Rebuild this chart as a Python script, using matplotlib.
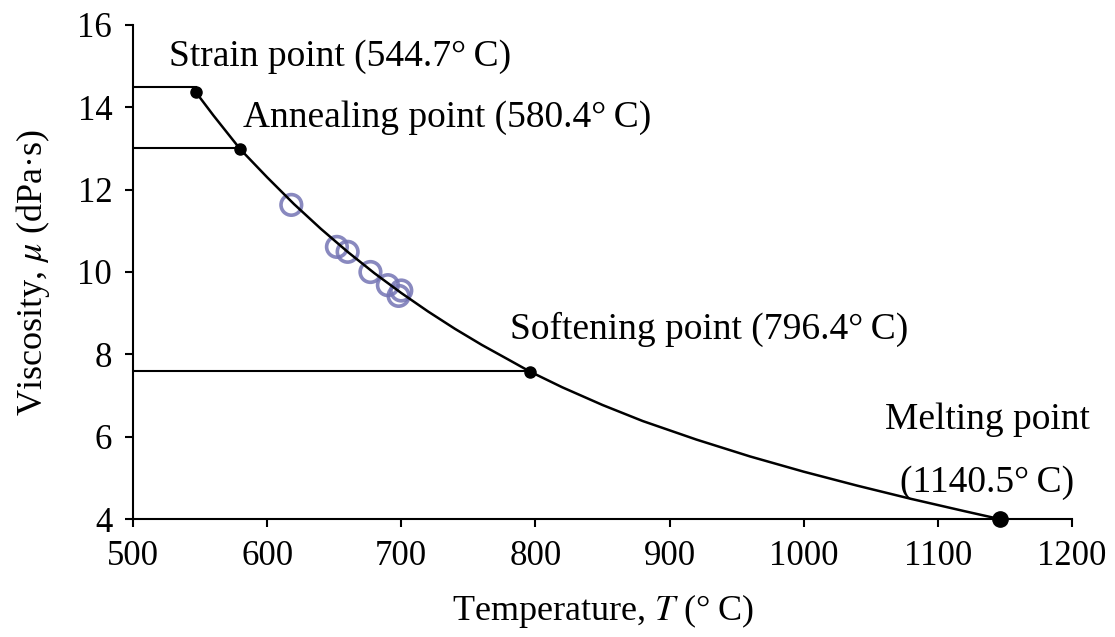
import numpy as np
import matplotlib
matplotlib.use('Agg')
import matplotlib.pyplot as plt

plt.rcParams['font.family'] = ['Liberation Serif', 'DejaVu Serif']
plt.rcParams['mathtext.fontset'] = 'stix'

# fitted viscosity curve
curve_T = [547, 560, 580, 600, 620, 640, 660, 680, 700, 720, 740, 760, 780, 796,
           820, 850, 880, 920, 960, 1000, 1040, 1080, 1120, 1146]
curve_mu = [14.36, 13.80, 12.98, 12.30, 11.65, 11.05, 10.49, 9.97, 9.49, 9.04,
            8.62, 8.23, 7.87, 7.58, 7.20, 6.77, 6.38, 5.93, 5.52, 5.15,
            4.81, 4.49, 4.19, 4.00]

# measured points (open circles)
meas_T = [618, 652, 660, 677, 690, 700, 698]
meas_mu = [11.63, 10.61, 10.49, 10.00, 9.68, 9.55, 9.42]

# characteristic points
pt_T = [547, 580, 796, 1146]
pt_mu = [14.36, 12.98, 7.58, 4.00]
line_mu = [14.5, 13.0, 7.6]

fig = plt.figure(figsize=(11.15, 6.37), dpi=100)
ax = fig.add_axes([0.1193, 0.1852, 0.8421, 0.7756])

ax.plot(curve_T, curve_mu, color='black', lw=1.8, zorder=3)
ax.scatter(meas_T, meas_mu, s=220, facecolors='none', edgecolors='#7474b4',
           linewidths=2.6, alpha=0.85, zorder=2)
for i in range(3):
    ax.plot([500, pt_T[i]], [line_mu[i], line_mu[i]], color='black', lw=1.5, zorder=3)
ax.plot(pt_T[:3], pt_mu[:3], 'o', color='black', ms=8, zorder=4)
ax.plot(pt_T[3:], pt_mu[3:], 'o', color='black', ms=11, zorder=4, clip_on=False)

fs = 25
afs = 27
deg = '°\u2009C'
ax.text(527, 15.22, 'Strain point (544.7' + deg + ')', fontsize=afs, va='center', ha='left')
ax.text(582, 13.74, 'Annealing point (580.4' + deg + ')', fontsize=afs, va='center', ha='left')
ax.text(781, 8.6, 'Softening point (796.4' + deg + ')', fontsize=afs, va='center', ha='left')
ax.text(1137, 6.41, 'Melting point', fontsize=afs, va='center', ha='center')
ax.text(1137, 4.88, '(1140.5' + deg + ')', fontsize=afs, va='center', ha='center')

ax.set_xlim(500, 1200)
ax.set_ylim(4, 16)
ax.set_xticks(np.arange(500, 1201, 100))
ax.set_yticks(np.arange(4, 17, 2))
ax.spines['top'].set_visible(False)
ax.spines['right'].set_visible(False)
ax.spines['left'].set_linewidth(1.5)
ax.spines['bottom'].set_linewidth(1.5)
ax.tick_params(direction='out', length=6, width=1.5, labelsize=fs, pad=9)

ax.set_xlabel('Temperature, $T$ (' + deg + ')', fontsize=26, labelpad=14)
ax.set_ylabel('Viscosity, $\\mu$ (dPa·s)', fontsize=26, labelpad=18)

fig.savefig('out.png', dpi=100)
